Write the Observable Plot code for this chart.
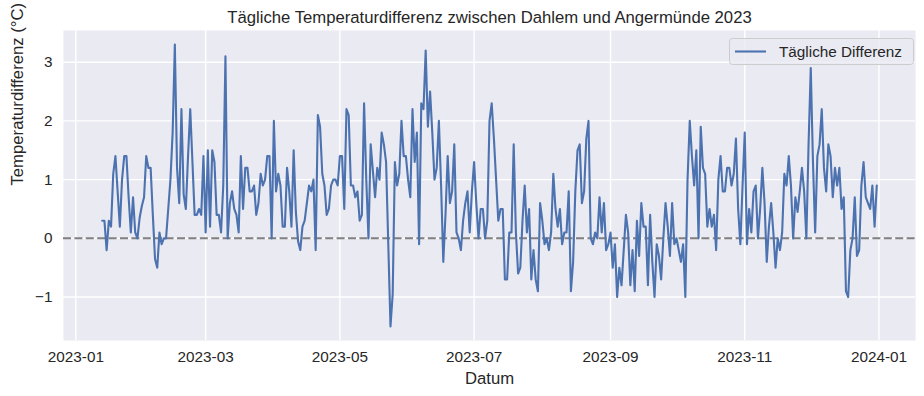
<!DOCTYPE html>
<html>
<head>
<meta charset="utf-8">
<script src="https://cdn.jsdelivr.net/npm/d3@7"></script>
<script src="https://cdn.jsdelivr.net/npm/@observablehq/plot@0.6"></script>
<style>
  body { margin: 0; background: white; }
  #chart { position: relative; width: 924px; height: 396px; }
</style>
</head>
<body>
<div id="chart"></div>
<script>
// Daily temperature difference Dahlem − Angermünde 2023 (°C)
const firstDay = [13, 1, 1, 1, 1, 1, 1, 1, 1, 1, 1, 1]; // first day of each month's series
const jan = [0.3,0.3,-0.2,0.3,0.2,1.1,1.4,0.8,0.2,1.0,1.4,1.4,0.7,0.1,0.7,0.1,0.0,0.35,0.55];
const feb = [0.7,1.4,1.2,1.2,0.4,-0.35,-0.5,0.1,-0.1,0.0,0.0,0.5,1.0,1.8,3.3,1.2,0.6,2.2,0.75,0.5,1.4,2.2,1.3,0.4,0.4,0.5,0.4,1.4];
const mar = [0.1,1.5,0.2,1.5,1.3,0.4,0.4,0.1,0.9,3.1,0.0,0.6,0.8,0.5,0.4,0.1,1.4,0.5,1.2,1.2,0.8,0.8,0.9,0.4,0.6,1.1,0.9,1.0,1.4,1.4,0.0];
const apr = [2.0,0.8,1.1,0.9,0.2,0.2,1.2,0.8,0.2,1.5,0.45,-0.05,-0.2,0.2,0.3,0.6,0.9,0.8,1.0,-0.2,2.1,1.9,1.1,0.9,0.4,0.5,0.9,1.0,1.0,0.9];
const may = [1.4,1.4,0.5,2.2,2.1,0.9,0.9,0.7,0.8,0.3,0.4,2.3,1.0,0.0,1.6,1.15,0.7,1.2,1.0,1.8,1.6,1.3,-0.1,-1.5,-0.95,1.3,0.9,1.1,2.0,1.4,1.4];
const jun = [1.0,0.7,2.2,1.3,1.8,-0.1,2.3,2.2,3.2,1.9,2.5,1.8,1.0,1.2,2.0,0.9,-0.4,0.4,1.4,0.6,0.8,1.6,0.1,0.0,-0.2,0.3,0.6,0.8,0.1,0.8];
const jul = [1.3,0.6,0.0,0.5,0.5,0.0,0.3,2.0,2.3,1.7,1.0,0.3,0.5,0.5,-0.7,-0.7,0.1,0.1,1.6,0.1,-0.6,-0.5,0.3,0.9,0.1,0.5,-0.7,-0.2,-0.7,-0.9,0.6];
const aug = [0.3,-0.1,0.0,-0.2,0.1,1.1,0.5,0.2,0.5,-0.1,0.1,0.1,0.8,-0.9,-0.4,0.8,1.5,1.6,0.6,0.8,1.7,2.0,0.0,-0.1,0.1,0.0,0.7,0.1,0.6,-0.2,-0.1];
const sep = [0.1,-0.5,-0.1,-1.0,-0.5,-0.8,-0.2,0.4,0.1,-0.8,-0.2,-0.9,0.3,-0.3,0.6,0.2,0.2,-0.8,0.4,-0.4,-1.0,-0.1,-0.3,-0.7,0.0,0.6,0.2,-0.3,0.6,-0.1];
const oct = [0.0,-0.2,-0.4,-0.1,-1.0,1.0,2.0,1.4,0.9,1.5,0.0,1.9,1.2,1.1,0.2,0.5,0.2,0.4,-0.2,1.0,1.4,0.8,0.8,1.2,1.2,0.9,1.1,1.7,0.5,-0.1,0.9];
const nov = [1.8,-0.1,0.5,0.1,0.8,0.9,0.0,0.5,1.2,0.6,-0.4,0.2,0.6,0.1,-0.5,0.0,-0.2,0.1,1.1,0.9,1.4,0.9,0.0,0.7,0.45,0.8,1.2,0.8,0.0,1.6];
const dec = [2.9,1.3,0.1,1.4,1.6,2.2,1.2,0.8,1.6,1.4,0.7,1.2,0.9,1.2,0.5,0.7,-0.9,-1.0,-0.2,0.0,0.7,-0.3,-0.2,0.9,1.3,0.7,0.6,0.5,0.9,0.2,0.9];
const months = [jan, feb, mar, apr, may, jun, jul, aug, sep, oct, nov, dec];

const xTickLabels = ["2023-01", "2023-03", "2023-05", "2023-07", "2023-09", "2023-11", "2024-01"];
const yTicks = [-1, 0, 1, 2, 3];
const titleText = "Tägliche Temperaturdifferenz zwischen Dahlem und Angermünde 2023";
const xLabel = "Datum";
const yLabel = "Temperaturdifferenz (°C)";
const seriesName = "Tägliche Differenz";

const data = [];
months.forEach((vals, m) => {
  vals.forEach((v, i) => data.push({date: new Date(Date.UTC(2023, m, firstDay[m] + i)), diff: v}));
});
const xTicks = xTickLabels.map(s => d3.utcParse("%Y-%m")(s));

const first = data[0].date, last = data[data.length - 1].date;
const span = last - first;
const xDomain = [new Date(+first - 0.05 * span), new Date(+last + 0.05 * span)];
const yMin = d3.min(data, d => d.diff), yMax = d3.max(data, d => d.diff);
const yDomain = [yMin - 0.05 * (yMax - yMin), yMax + 0.05 * (yMax - yMin)];

const font = "'Liberation Sans', Arial, sans-serif";
const ink = "#262626";

const chart = Plot.plot({
  width: 924,
  height: 396,
  marginLeft: 63,
  marginRight: 9,
  marginTop: 30,
  marginBottom: 56,
  style: {fontFamily: font, fontSize: "15.3px", color: ink, background: "white", overflow: "visible"},
  x: {type: "utc", domain: xDomain},
  y: {domain: yDomain},
  marks: [
    Plot.frame({fill: "#EAEAF2", stroke: null}),
    Plot.gridX(xTicks, {stroke: "white", strokeOpacity: 1, strokeWidth: 1.4}),
    Plot.gridY(yTicks, {stroke: "white", strokeOpacity: 1, strokeWidth: 1.4}),
    Plot.ruleY([0], {stroke: "#808080", strokeWidth: 2, strokeDasharray: "8,3.4"}),
    Plot.line(data, {x: "date", y: "diff", stroke: "#4C72B0", strokeWidth: 2.1}),
    Plot.axisX(xTicks, {tickSize: 0, tickPadding: 11, tickFormat: d3.utcFormat("%Y-%m"), label: null, fontSize: 15.3}),
    Plot.axisY(yTicks, {tickSize: 0, tickPadding: 11, tickFormat: d => d < 0 ? "\u2212" + Math.abs(d) : String(d), label: null, fontSize: 15.3}),
    Plot.text([titleText], {frameAnchor: "top", dy: -13, lineAnchor: "middle", fontSize: 16.7, fill: ink}),
    Plot.text([xLabel], {frameAnchor: "bottom", dy: 38, lineAnchor: "middle", fontSize: 16.7, fill: ink}),
    Plot.text([yLabel], {frameAnchor: "left", dx: -46, rotate: -90, lineAnchor: "middle", fontSize: 16.7, fill: ink})
  ]
});

// legend drawn inside the SVG, upper right
const svg = d3.select(chart);
const lg = svg.append("g").attr("font-family", font).attr("text-anchor", "start");
lg.append("rect").attr("x", 729.5).attr("y", 38.5).attr("width", 184).attr("height", 26)
  .attr("rx", 3).attr("fill", "rgba(234,234,242,0.8)").attr("stroke", "#cccccc");
lg.append("line").attr("x1", 735).attr("x2", 766).attr("y1", 51.5).attr("y2", 51.5)
  .attr("stroke", "#4C72B0").attr("stroke-width", 2.1);
lg.append("text").attr("x", 779).attr("y", 51.5).attr("dy", "0.35em").attr("font-size", 15.3)
  .attr("text-anchor", "start").attr("fill", ink).text(seriesName);

document.getElementById("chart").appendChild(chart);
</script>
</body>
</html>
